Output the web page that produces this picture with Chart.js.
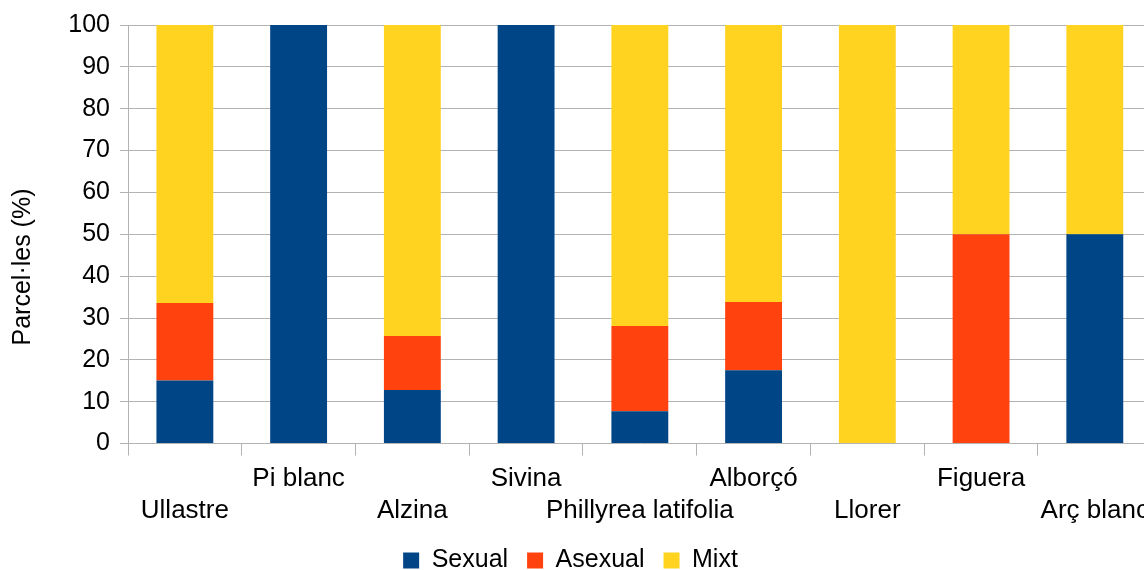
<!DOCTYPE html>
<html>
<head>
<meta charset="utf-8">
<script src="https://cdn.jsdelivr.net/npm/chart.js@4"></script>
<style>
    html, body { margin: 0; padding: 0; background: #fff; overflow: hidden; }
    #wrap { width: 1157px; height: 570px; }
</style>
</head>
<body>
<div id="wrap"><canvas id="chart"></canvas></div>
<script>
// Data
const categories = ['Ullastre', 'Pi blanc', 'Alzina', 'Sivina', 'Phillyrea latifolia', 'Alborçó', 'Llorer', 'Figuera', 'Arç blanc'];
const sexual  = [15.1, 100, 12.8, 100, 7.7, 17.5, 0, 0, 50];
const asexual = [18.5, 0, 12.9, 0, 20.4, 16.3, 0, 50, 0];
const mixt    = [66.4, 0, 74.3, 0, 71.9, 66.2, 100, 50, 50];
const yTitle = 'Parcel·les (%)';

const FONT = '"Liberation Sans", Arial, sans-serif';
const GRID = '#b3b3b3';

// staggered labels: even on the lower row, odd on the upper row
const xLabels = categories.map((c, i) => i % 2 === 0 ? ['', c] : [c, '']);

// y axis title drawn by hand so it sits where the original has it
const yTitlePlugin = {
    id: 'yTitle',
    afterDraw(chart) {
        const ctx = chart.ctx;
        ctx.save();
        ctx.translate(23, 267);
        ctx.rotate(-Math.PI / 2);
        ctx.font = '25px ' + FONT;
        ctx.fillStyle = '#000';
        ctx.textAlign = 'center';
        ctx.textBaseline = 'middle';
        ctx.fillText(yTitle, 0, 0);
        ctx.restore();
    }
};

// the canvas is wider than the window, so nudge the legend back to the visible centre
const legendShift = {
    id: 'legendShift',
    afterLayout(chart) {
        chart.legend.left -= 8;
        chart.legend.right -= 8;
    }
};

new Chart(document.getElementById('chart'), {
    type: 'bar',
    data: {
        labels: xLabels,
        datasets: [
            { label: 'Sexual', data: sexual, backgroundColor: '#004586', borderWidth: 0 },
            { label: 'Asexual', data: asexual, backgroundColor: '#ff420e', borderWidth: 0 },
            { label: 'Mixt', data: mixt, backgroundColor: '#ffd320', borderWidth: 0 }
        ]
    },
    options: {
        responsive: true,
        maintainAspectRatio: false,
        animation: false,
        datasets: { bar: { barPercentage: 0.5, categoryPercentage: 1.0 } },
        layout: { padding: { top: 15, right: 0, bottom: -13, left: 0 } },
        plugins: {
            legend: {
                position: 'bottom',
                labels: {
                    boxWidth: 16, boxHeight: 16, padding: 19,
                    color: '#000', font: { family: FONT, size: 25 }
                }
            },
            tooltip: { enabled: false }
        },
        scales: {
            x: {
                stacked: true,
                afterFit: s => { s.height -= 5; },
                grid: { offset: true, drawOnChartArea: false, color: GRID, tickLength: 12, lineWidth: 1 },
                border: { display: false },
                ticks: {
                    autoSkip: false, maxRotation: 0, minRotation: 0, padding: 8,
                    color: '#000', font: { family: FONT, size: 26, lineHeight: 1.2 }
                }
            },
            y: {
                stacked: true,
                min: 0, max: 100,
                afterFit: s => { s.width = 128; },
                grid: { color: GRID, tickLength: 8, lineWidth: 1 },
                border: { display: true, color: GRID },
                ticks: {
                    stepSize: 10, padding: 10,
                    color: '#000', font: { family: FONT, size: 25 }
                }
            }
        }
    },
    plugins: [yTitlePlugin, legendShift]
});
</script>
</body>
</html>
